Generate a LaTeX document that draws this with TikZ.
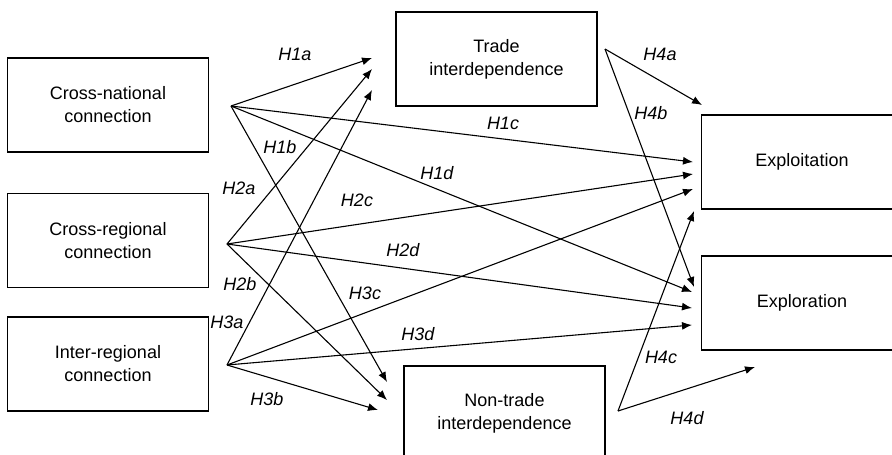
\documentclass[tikz,border=0pt]{standalone}
\usepackage{fontspec}
\setmainfont{Liberation Sans}
\usetikzlibrary{arrows.meta}

\begin{document}
\begin{tikzpicture}[
	x=1pt,
	y=-1pt,
	->,
	>={Latex[length=10pt,width=8pt]},
	line width=1.1pt,
	var node/.style={rectangle,draw,line width=1.1pt,align=center,minimum width=201pt,minimum height=94pt,
		font=\fontsize{18}{23}\selectfont},
	hyp node/.style={font=\fontsize{18}{22}\selectfont\itshape,inner sep=0pt}
]
\useasboundingbox (0,0) rectangle (892,455);

\node[var node] (cn) at (108,105) {Cross-national\\connection};
\node[var node] (cr) at (108,240.5) {Cross-regional\\connection};
\node[var node] (ir) at (108,364) {Inter-regional\\connection};
\node[var node] (td) at (496.5,59) {Trade\\interdependence};
\node[var node] (nd) at (504.5,413) {Non-trade\\interdependence};
\node[var node] (ei) at (802,162) {Exploitation};
\node[var node] (er) at (802,303) {Exploration};

% start points
\coordinate (o1) at (231,106);
\coordinate (o2) at (227,244);
\coordinate (o3) at (227,365);
\coordinate (o4) at (605,49);
\coordinate (o5) at (618,411);
% arrow ends
\coordinate (a1) at (372,58);
\coordinate (a2) at (372,69);
\coordinate (a3) at (372,90);
\coordinate (b1) at (387,382);
\coordinate (b2) at (387,400);
\coordinate (b3) at (378,410);
\coordinate (c1) at (693,162);
\coordinate (c2) at (693,174);
\coordinate (c3) at (693,189);
\coordinate (c4) at (694,211);
\coordinate (c5) at (702,105);
\coordinate (d1) at (692,292);
\coordinate (d2) at (692,308);
\coordinate (d3) at (692,325);
\coordinate (d4) at (694,287);
\coordinate (d5) at (755,367);

\path
(o1) edge (a1)
(o1) edge (b1)
(o1) edge (c1)
(o1) edge (d1)
(o2) edge (a2)
(o2) edge (b2)
(o2) edge (c2)
(o2) edge (d2)
(o3) edge (a3)
(o3) edge (b3)
(o3) edge (c3)
(o3) edge (d3)
(o4) edge (c5)
(o4) edge (d4)
(o5) edge (c4)
(o5) edge (d5)
;

\node[hyp node] (h1a) at (295,54) {H1a};
\node[hyp node] (h1b) at (280,147) {H1b};
\node[hyp node] (h1c) at (503,123) {H1c};
\node[hyp node] (h1d) at (437,173) {H1d};
\node[hyp node] (h2a) at (239,188) {H2a};
\node[hyp node] (h2b) at (240,284) {H2b};
\node[hyp node] (h2c) at (357,200) {H2c};
\node[hyp node] (h2d) at (403,250) {H2d};
\node[hyp node] (h3a) at (227,322) {H3a};
\node[hyp node] (h3b) at (267,399) {H3b};
\node[hyp node] (h3c) at (365,293) {H3c};
\node[hyp node] (h3d) at (418,334) {H3d};
\node[hyp node] (h4a) at (660,54) {H4a};
\node[hyp node] (h4b) at (651,113) {H4b};
\node[hyp node] (h4c) at (661,357) {H4c};
\node[hyp node] (h4d) at (687,418) {H4d};
\end{tikzpicture}
\end{document}
